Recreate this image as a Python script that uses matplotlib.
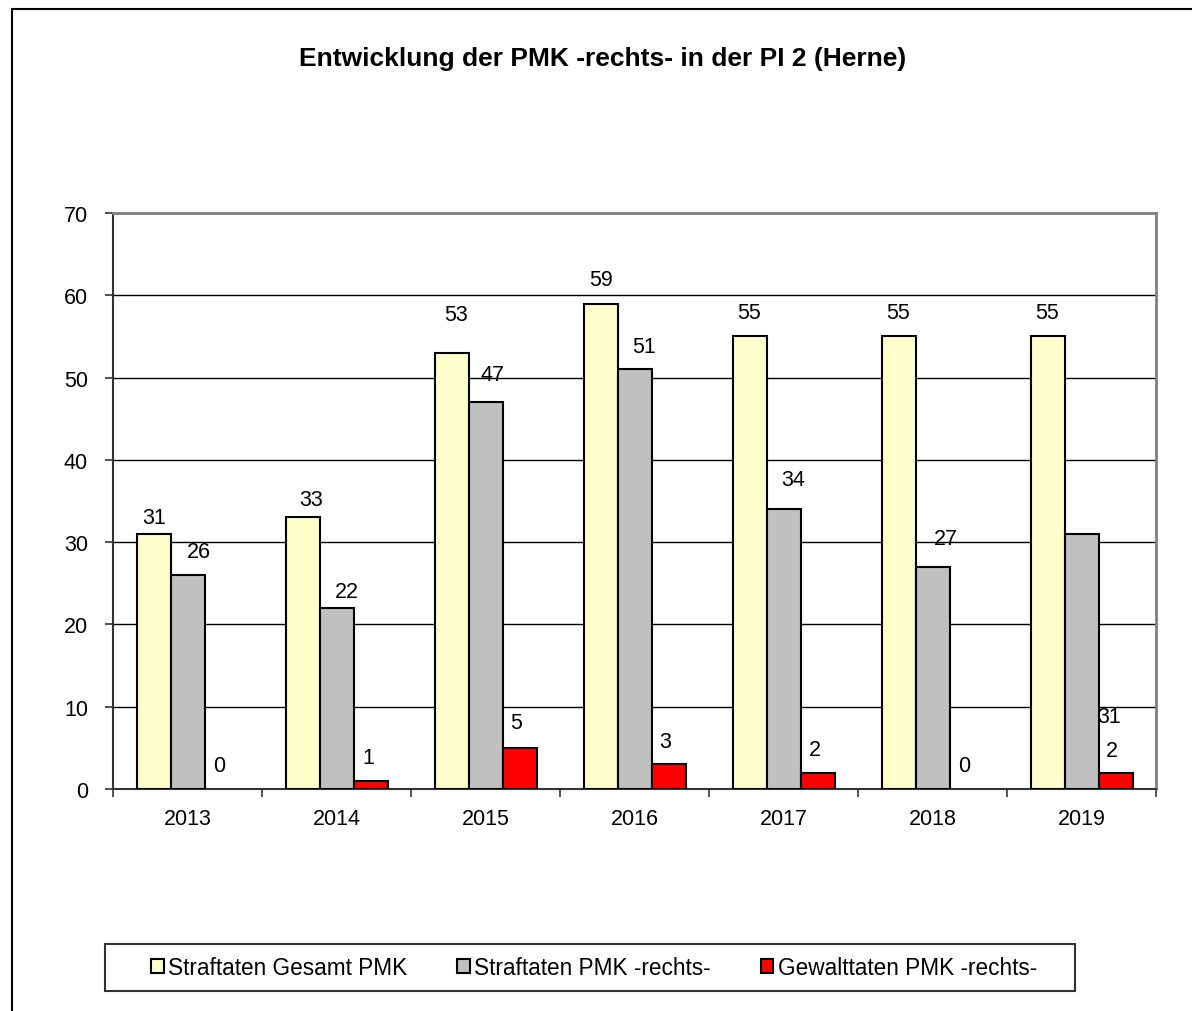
import matplotlib
matplotlib.use("Agg")
import matplotlib.pyplot as plt
import numpy as np
from matplotlib.patches import Rectangle, Patch

plt.rcParams['font.family'] = ['Liberation Sans', 'DejaVu Sans']

years = ["2013", "2014", "2015", "2016", "2017", "2018", "2019"]
gesamt = [31, 33, 53, 59, 55, 55, 55]
rechts = [26, 22, 47, 51, 34, 27, 31]
gewalt = [0, 1, 5, 3, 2, 0, 2]
series_names = ["Straftaten Gesamt PMK", "Straftaten PMK -rechts-", "Gewalttaten PMK -rechts-"]
title = "Entwicklung der PMK -rechts- in der PI 2 (Herne)"
y_ticks = [0, 10, 20, 30, 40, 50, 60, 70]

# label offsets (pixels) relative to bar top centre, mimicking the reference placement
lab_dx = [[1, 9, 5, 1, 0, 0, 0],
          [11, 10, 7, 10, 10, 13, 28],
          [-2, -2, -3, -3, -3, -2, -4]]
lab_dy = [[16, 18, 38, 24, 24, 24, 24],
          [24, 16, 28, 23, 30, 28, -183],
          [24, 23, 25, 23, 23, 24, 22]]

W, H = 1192, 1012
fig = plt.figure(figsize=(W / 100, H / 100), dpi=100)
fig.patch.set_facecolor("white")

# outer border
fig.add_artist(Rectangle((11.5 / W, -0.01), 1.1, 1 - 9.5 / H + 0.01, transform=fig.transFigure,
                         fill=False, edgecolor="black", linewidth=1.5))

ax = fig.add_axes([113 / W, 1 - 790 / H, (1156 - 113) / W, (790 - 214) / H])
x = np.arange(len(years))
bw = 34 / 149
colors = ["#FFFFCC", "#C0C0C0", "#FF0000"]
data = [gesamt, rechts, gewalt]
FS = 15.5
for i, (vals, col, name) in enumerate(zip(data, colors, series_names)):
    pos = x + (i - 1) * bw
    bars = ax.bar(pos, vals, width=bw, color=col, edgecolor="black", linewidth=1.5,
                  zorder=3)
    for b, v in zip(bars, vals):
        if v == 0:
            b.set_visible(False)
    for j, v in enumerate(vals):
        ax.annotate(str(v), (pos[j], v), xytext=(lab_dx[i][j], lab_dy[i][j]),
                    textcoords="offset pixels", ha="center", va="center",
                    fontsize=FS, color="black", zorder=4)

ax.set_xlim(-0.5, len(years) - 0.5)
ax.set_ylim(0, 70)
ax.set_yticks(y_ticks)
ax.set_yticklabels([str(t) for t in y_ticks], fontsize=FS)
ax.set_xticks(x)
ax.set_xticklabels(years, fontsize=FS)
ax.tick_params(axis="x", length=0, pad=14)
ax.tick_params(axis="y", length=6, width=1.2, direction="out", pad=12, color="#333333")
ax.set_xticks(np.arange(-0.5, len(years)), minor=True)
ax.tick_params(axis="x", which="minor", length=6, width=1.2, color="#333333", direction="out")
ax.grid(axis="y", color="black", linewidth=1.0, zorder=0)
ax.set_axisbelow(True)
for s in ["top", "right"]:
    ax.spines[s].set_color("#808080")
    ax.spines[s].set_linewidth(2)
for s in ["left", "bottom"]:
    ax.spines[s].set_color("#333333")
    ax.spines[s].set_linewidth(1.5)

fig.text(603 / W, 1 - 59 / H, title, ha="center", va="center", fontsize=19,
         fontweight="bold")

# legend box
fig.add_artist(Rectangle((105 / W, 1 - 992 / H), (1075 - 105) / W, (992 - 945) / H,
                         transform=fig.transFigure, fill=False, edgecolor="#333333",
                         linewidth=1.5))
handles = [Patch(facecolor=c, edgecolor="black", linewidth=1.5) for c in colors]
leg = fig.legend(handles, series_names, loc="center", ncol=3,
                 bbox_to_anchor=(594 / W, 1 - 968.5 / H), fontsize=16.3,
                 frameon=False, handlelength=0.55, handleheight=0.55, handletextpad=0.2,
                 columnspacing=2.2, borderpad=0, borderaxespad=0)

fig.savefig("out.png", dpi=100, facecolor="white")
